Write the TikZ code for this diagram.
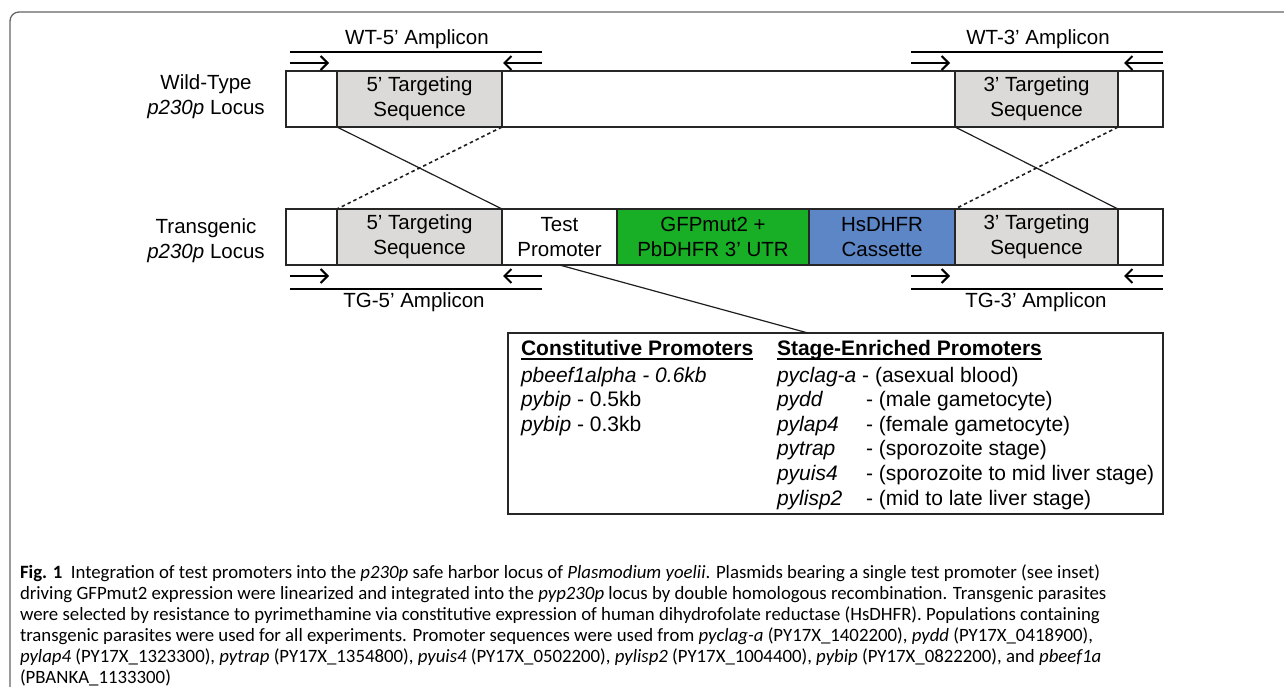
\documentclass[tikz,border=0pt]{standalone}
\usepackage{xcolor}
\usepackage{fontspec}
\setmainfont{Liberation Sans}
\newfontfamily\capfont{Carlito}
\usepackage{tikz}
\usetikzlibrary{arrows.meta}
\newcommand{\labfont}{\fontsize{20.5}{25}\selectfont}
\newcommand{\insfont}{\fontsize{21}{25}\selectfont}
\newcommand{\capsize}{\capfont\fontsize{18.8}{21}\selectfont}
\newcommand{\hdline}[1]{\setbox0\hbox{\textbf{#1}}\rlap{\rule[-4.5pt]{\wd0}{1.8pt}}\box0}

\begin{document}
\begin{tikzpicture}[x=1pt,y=-1pt]
						\tikzstyle{every node}=[inner sep=0pt, outer sep=0pt]
						\tikzstyle{seg}=[draw={rgb,255:red,38; green,38; blue,38}, line width=2pt, fill=white, minimum height=56pt, anchor=north west, align=center, font=\labfont]
						\tikzstyle{target}=[seg, fill={rgb,255:red,219; green,218; blue,216}]
						\tikzstyle{primer}=[line width=2pt, -{Straight Barb[length=7pt,width=14pt]}]
						\tikzstyle{amplicon}=[line width=2.5pt]
						\tikzstyle{xline}=[line width=1.2pt, color={rgb,255:red,30; green,30; blue,30}]
						\tikzstyle{xdash}=[line width=1.6pt, color={rgb,255:red,30; green,30; blue,30}, dash pattern=on 3.5pt off 3pt]
						\tikzstyle{inrow}=[anchor=base west, font=\insfont]
						\tikzstyle{capline}=[anchor=base west, font=\capsize]
						\useasboundingbox (0,0) rectangle (1284,687);
						\draw [line width=1.3pt, color={rgb,255:red,100; green,100; blue,100}, rounded corners=9pt] (1292,12) -- (10,12) -- (10,695);
						% wild-type locus
						\node [font=\labfont, align=center] (wtname) at (206,97) {Wild-Type\\\textit{p230p} Locus};
						\node [seg, minimum width=51pt] (wl) at (286,71) {};
						\node [target, minimum width=165pt] (w5) at (wl.north east) {5' Targeting\\Sequence};
						\node [seg, minimum width=453pt] (wm) at (w5.north east) {};
						\node [target, minimum width=163pt] (w3) at (wm.north east) {3' Targeting\\Sequence};
						\node [seg, minimum width=45pt] (wr) at (w3.north east) {};
						\node [font=\labfont] (wt5) at (417,39) {WT-5' Amplicon};
						\node [font=\labfont] (wt3) at (1038,39) {WT-3' Amplicon};
						\draw [amplicon] (290,52) -- (542,52);
						\draw [amplicon] (911,52) -- (1163,52);
						\draw [primer] (290,63) -- (329,63);
						\draw [primer] (542,63) -- (503,63);
						\draw [primer] (911,63) -- (950,63);
						\draw [primer] (1163,63) -- (1124,63);
						% transgenic locus
						\node [font=\labfont, align=center] (tgname) at (206,241) {Transgenic\\\textit{p230p} Locus};
						\node [seg, minimum width=51pt] (tl) at (286,209) {};
						\node [target, minimum width=165pt] (t5) at (tl.north east) {5' Targeting\\Sequence};
						\node [seg, minimum width=115pt] (tp) at (t5.north east) {Test\\Promoter};
						\node [seg, minimum width=192pt, fill={rgb,255:red,24; green,175; blue,38}] (tg) at (tp.north east) {GFPmut2 +\\PbDHFR 3' UTR};
						\node [seg, minimum width=146pt, fill={rgb,255:red,93; green,134; blue,198}] (th) at (tg.north east) {HsDHFR\\Cassette};
						\node [target, minimum width=163pt] (t3) at (th.north east) {3' Targeting\\Sequence};
						\node [seg, minimum width=45pt] (tr) at (t3.north east) {};
						\draw [primer] (290,276) -- (329,276);
						\draw [primer] (542,276) -- (503,276);
						\draw [primer] (911,276) -- (950,276);
						\draw [primer] (1163,276) -- (1124,276);
						\draw [amplicon] (290,289) -- (542,289);
						\draw [amplicon] (911,289) -- (1163,289);
						\node [font=\labfont] (tg5) at (414,302) {TG-5' Amplicon};
						\node [font=\labfont] (tg3) at (1036,302) {TG-3' Amplicon};
						% crossover
						\draw [xline] (w5.south west) -- (t5.north east);
						\draw [xdash] (w5.south east) -- (t5.north west);
						\draw [xline] (w3.south west) -- (t3.north east);
						\draw [xdash] (w3.south east) -- (t3.north west);
						% inset
						\node [draw={rgb,255:red,38; green,38; blue,38}, line width=2pt, minimum width=655pt, minimum height=181pt, anchor=north west] (inset) at (508,333) {};
						\coordinate (insettop) at (808,333);
						\draw [xline] (tp.south) -- (insettop);
						\node [inrow] (consthd) at (521,355) {\hdline{Constitutive Promoters}};
						\node [inrow] (c1) at (521,382) {\textit{pbeef1alpha - 0.6kb}};
						\node [inrow] (c2) at (521,406.6) {\textit{pybip} - 0.5kb};
						\node [inrow] (c3) at (521,431.2) {\textit{pybip} - 0.3kb};
						\node [inrow] (stagehd) at (777,355) {\hdline{Stage-Enriched Promoters}};
						\node [inrow] (s1) at (777,382) {\textit{pyclag-a} - (asexual blood)};
						\node [inrow] (s2) at (777,406.6) {\textit{pydd}};
						\node [inrow] (s3) at (777,431.2) {\textit{pylap4}};
						\node [inrow] (s4) at (777,455.8) {\textit{pytrap}};
						\node [inrow] (s5) at (777,480.4) {\textit{pyuis4}};
						\node [inrow] (s6) at (777,505) {\textit{pylisp2}};
						\node [inrow] (d2) at (866,406.6) {- (male gametocyte)};
						\node [inrow] (d3) at (866,431.2) {- (female gametocyte)};
						\node [inrow] (d4) at (866,455.8) {- (sporozoite stage)};
						\node [inrow] (d5) at (866,480.4) {- (sporozoite to mid liver stage)};
						\node [inrow] (d6) at (866,505) {- (mid to late liver stage)};
						% caption
						\node [capline] (cap1) at (20,578) {\textbf{Fig. 1}\hspace{0.45em}Integration of test promoters into the \textit{p230p} safe harbor locus of \textit{Plasmodium yoelii}. Plasmids bearing a single test promoter (see inset)};
						\node [capline] (cap2) at (20,599) {driving GFPmut2 expression were linearized and integrated into the \textit{pyp230p} locus by double homologous recombination. Transgenic parasites};
						\node [capline] (cap3) at (20,620) {were selected by resistance to pyrimethamine via constitutive expression of human dihydrofolate reductase (HsDHFR). Populations containing};
						\node [capline] (cap4) at (20,641) {transgenic parasites were used for all experiments. Promoter sequences were used from \textit{pyclag-a} (PY17X\_1402200), \textit{pydd} (PY17X\_0418900),};
						\node [capline] (cap5) at (20,662) {\textit{pylap4} (PY17X\_1323300), \textit{pytrap} (PY17X\_1354800), \textit{pyuis4} (PY17X\_0502200), \textit{pylisp2} (PY17X\_1004400), \textit{pybip} (PY17X\_0822200), and \textit{pbeef1a}};
						\node [capline] (cap6) at (20,683) {(PBANKA\_1133300)};
					\end{tikzpicture}
\end{document}
